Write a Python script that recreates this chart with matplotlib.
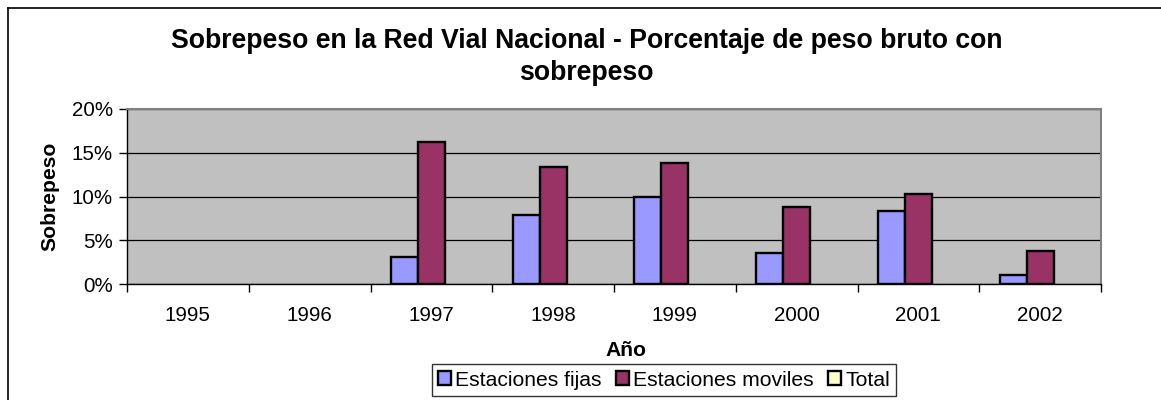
import numpy as np
import matplotlib
matplotlib.use('Agg')
import matplotlib.pyplot as plt
from matplotlib.lines import Line2D
from matplotlib.ticker import FuncFormatter

plt.rcParams['font.family'] = ['Liberation Sans', 'DejaVu Sans']

# data (percent)
years = ['1995', '1996', '1997', '1998', '1999', '2000', '2001', '2002']
fijas = [np.nan, np.nan, 3.1, 7.9, 9.95, 3.6, 8.3, 1.05]
moviles = [np.nan, np.nan, 16.25, 13.4, 13.8, 8.75, 10.3, 3.8]
total = [np.nan] * 8
series = ['Estaciones fijas', 'Estaciones moviles', 'Total']
colors = ['#9999FF', '#993366', '#FFFFCC']

fig = plt.figure(figsize=(11.61, 4.0), dpi=100)
ax = fig.add_axes([127 / 1161, 1 - 284 / 400, (1101 - 127) / 1161, (284 - 109) / 400])

x = np.arange(len(years))
w = 1 / 4.5
for i, (vals, lab, col) in enumerate(zip([fijas, moviles, total], series, colors)):
    ax.bar(x + (i - 1) * w, vals, width=w, color=col, edgecolor='black',
           linewidth=1.7, label=lab, zorder=3)

ax.set_facecolor('#C0C0C0')
ax.set_xlim(-0.5, len(years) - 0.5)
ax.set_ylim(0, 20)
ax.set_yticks([0, 5, 10, 15, 20])
ax.yaxis.set_major_formatter(FuncFormatter(lambda v, p: '%d%%' % v))
ax.yaxis.grid(True, color='black', linewidth=0.9, zorder=1)
ax.set_axisbelow(True)

ax.set_xticks(x)
ax.set_xticklabels(years)
ax.set_xticks(np.arange(-0.5, len(years)), minor=True)
ax.tick_params(axis='x', which='major', length=0, pad=16, labelsize=14.8)
ax.tick_params(axis='x', which='minor', length=6, width=1, direction='out')
ax.tick_params(axis='y', length=6, width=1, direction='out', pad=4, labelsize=14.8)

for s in ['top', 'right']:
    ax.spines[s].set_color('#808080')
    ax.spines[s].set_linewidth(1.5)
for s in ['left', 'bottom']:
    ax.spines[s].set_color('black')
    ax.spines[s].set_linewidth(1)

ax.set_ylabel('Sobrepeso', fontsize=15.2, fontweight='bold')
ax.yaxis.set_label_coords(-(127 - 59) / (1101 - 127), 0.5)
ax.set_xlabel('Año', fontsize=15.2, fontweight='bold')
ax.xaxis.set_label_coords((626 - 127) / (1101 - 127), -(350 - 284) / (284 - 109))
ax.xaxis.label.set_va('center')

fig.text(0.505, 1 - 57 / 400, 'Sobrepeso en la Red Vial Nacional - Porcentaje de peso bruto con\nsobrepeso',
         ha='center', va='center', fontsize=19.2, fontweight='bold', linespacing=1.3)

leg = fig.legend(loc='center', bbox_to_anchor=(664 / 1161, 1 - 380 / 400), ncol=3,
                 fontsize=15.2, frameon=True, fancybox=False, edgecolor='black',
                 handlelength=0.6, handleheight=0.6, handletextpad=0.2,
                 columnspacing=0.7, borderpad=0.3, borderaxespad=0)
leg.get_frame().set_linewidth(1)

# outer chart border (left and top edges visible)
fig.add_artist(Line2D([8 / 1161, 8 / 1161], [0, 1 - 8 / 400], color='black', linewidth=1.2))
fig.add_artist(Line2D([8 / 1161, 1], [1 - 8 / 400, 1 - 8 / 400], color='black', linewidth=1.2))

fig.savefig('out.png', dpi=100)
